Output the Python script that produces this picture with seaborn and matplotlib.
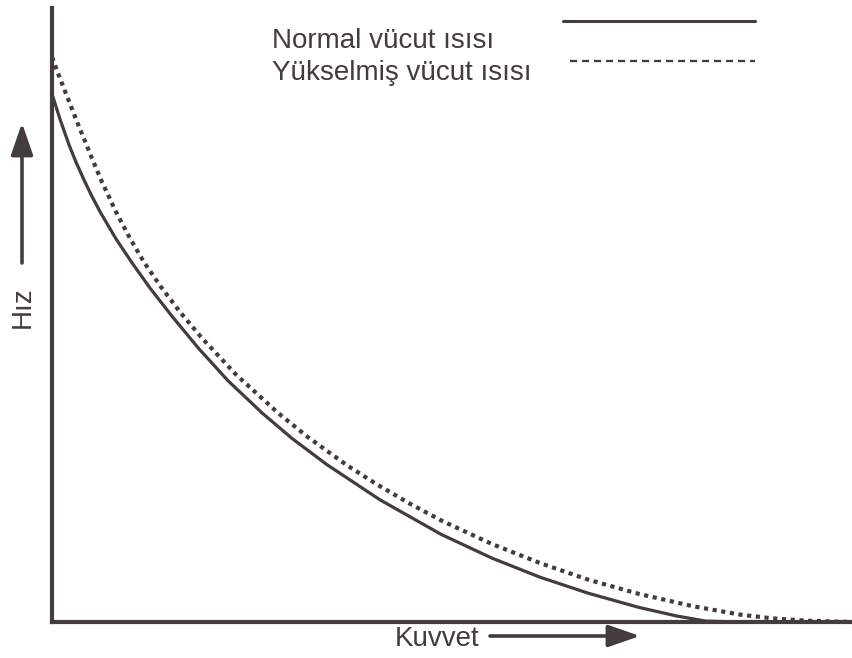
import matplotlib
matplotlib.use("Agg")
import matplotlib.pyplot as plt
from matplotlib.lines import Line2D
import pandas as pd
import seaborn as sns

# values (force 0-100, speed 0-100, no units)
normal_force = [0, 1, 2.1, 3, 4, 5, 6.1, 8, 10, 12.3, 15, 18.3, 22, 26.3, 30, 34.4,
                41, 48.6, 55, 61, 67, 73.3, 78, 81.7, 86, 100]
normal_speed = [86, 81.9, 77.8, 74.9, 72.0, 69.3, 66.6, 62.4, 58.5, 54.3, 49.8, 44.6,
                39.3, 34.0, 29.9, 25.6, 19.9, 14.3, 10.4, 7.3, 4.7, 2.4, 1.0, 0.15, 0, 0]

fever_force = [0, 0.8, 1.7, 3.4, 5, 6.2, 8, 9.7, 11.5, 13.6, 16, 18.7, 23, 28.3, 32,
               36.9, 40.5, 44.7, 48.7, 55, 61, 67, 73.3, 80, 86, 90, 94.4, 100]
fever_speed = [92, 89.2, 86.2, 80.6, 75.5, 71.8, 66.8, 62.6, 58.6, 54.6, 50.5, 46.3,
               40.3, 34.0, 30.1, 25.5, 22.5, 19.3, 16.5, 12.7, 9.6, 6.9, 4.6, 2.6,
               1.2, 0.6, 0.2, 0]

labels = ["Normal vücut ısısı", "Yükselmiş vücut ısısı"]
x_label = "Kuvvet"
y_label = "Hız"

ink = "#433b3d"

sns.set_style("white")
plt.rcParams["font.family"] = ["Liberation Sans", "DejaVu Sans"]

W, H = 852, 658
fig = plt.figure(figsize=(W / 100, H / 100), dpi=100)
ax = fig.add_axes([52 / W, 36 / H, 800 / W, 614 / H])

normal = pd.DataFrame({"force": normal_force, "speed": normal_speed})
fever = pd.DataFrame({"force": fever_force, "speed": fever_speed})

sns.lineplot(data=normal, x="force", y="speed", ax=ax, color=ink, lw=2.3,
             estimator=None, sort=False, clip_on=False)
sns.lineplot(data=fever, x="force", y="speed", ax=ax, color=ink, lw=3.0,
             estimator=None, sort=False, clip_on=False,
             dashes=False, linestyle=(0, (1.0, 1.1)), dash_capstyle="butt")

ax.set_xlim(0, 100)
ax.set_ylim(0, 100)
ax.set_xticks([])
ax.set_yticks([])
ax.set_xlabel("")
ax.set_ylabel("")
for side in ["top", "right"]:
    ax.spines[side].set_visible(False)
for side in ["left", "bottom"]:
    ax.spines[side].set_color(ink)
    ax.spines[side].set_linewidth(3.0)

# legend: text on the left, line sample on the right
fig.text(272 / W, 1 - 48 / H, labels[0], fontsize=20, color=ink, ha="left", va="baseline")
fig.text(272 / W, 1 - 80 / H, labels[1], fontsize=20, color=ink, ha="left", va="baseline")
fig.add_artist(Line2D([563 / W, 755 / W], [1 - 21 / H] * 2, transform=fig.transFigure,
                      color=ink, lw=2.2))
fig.add_artist(Line2D([570 / W, 755 / W], [1 - 61 / H] * 2, transform=fig.transFigure,
                      color=ink, lw=1.6, linestyle=(0, (3.2, 2.2))))

# axis names with arrows
fig.text(23 / W, 1 - 307 / H, y_label, fontsize=20, color=ink, rotation=90,
         ha="center", va="center")
fig.text(437 / W, 1 - 639 / H, x_label, fontsize=20, color=ink, ha="center", va="center")

arrow = dict(arrowstyle="-|>,head_length=1.3,head_width=0.45", lw=2.6, color=ink,
             mutation_scale=15, shrinkA=0, shrinkB=0)
ax.annotate("", xy=(22, H - 123), xytext=(22, H - 263), xycoords="figure pixels",
            textcoords="figure pixels", arrowprops=arrow)
ax.annotate("", xy=(640, H - 636), xytext=(490, H - 636), xycoords="figure pixels",
            textcoords="figure pixels", arrowprops=arrow)

fig.savefig("out.png", dpi=100)
